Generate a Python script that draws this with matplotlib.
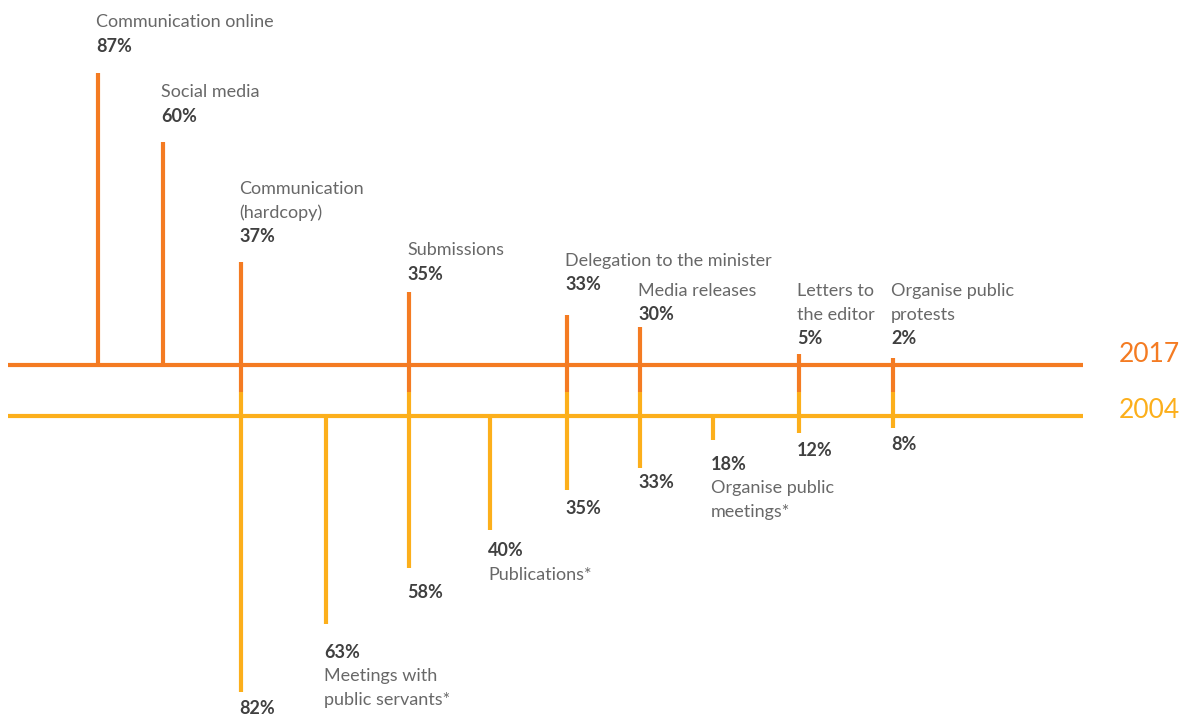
import matplotlib.pyplot as plt

plt.rcParams["font.family"] = ["Lato", "DejaVu Sans"]

# categories, left to right
names = [
    "Communication online",
    "Social media",
    "Communication\n(hardcopy)",
    "Meetings with\npublic servants*",
    "Submissions",
    "Publications*",
    "Delegation to the minister",
    "Media releases",
    "Organise public\nmeetings*",
    "Letters to\nthe editor",
    "Organise public\nprotests",
]
pct_2017 = [87, 60, 37, None, 35, None, 33, 30, None, 5, 2]
pct_2004 = [None, None, 82, 63, 58, 40, 35, 33, 18, 12, 8]

# drawn stem lengths (the design is not to scale)
stem_2017 = [292, 223, 103, None, 73, None, 50, 38, None, 11, 7]
stem_2004 = [None, None, 276, 208, 152, 114, 74, 52, 24, 17, 12]

# layout: x of each stem, gap from stem end to its percentage label
xpos = [98, 163, 241, 326, 409, 490, 567, 640, 713, 799, 893]
gap_2017 = [27, 26, 25, None, 18, None, 30, 12, None, 15, 19]
gap_2004 = [None, None, 17, 28, 25, 21, 18, 15, 24, 17, 16]
y17, y04 = 365, 416
mid = (y17 + y04) / 2 + 1
c17 = "#F47B22"
c04 = "#FCAF1B"
c_txt = "#686868"
c_pct = "#404040"
fs = 13

fig = plt.figure(figsize=(11.9, 7.18), dpi=100)
ax = fig.add_axes([0, 0, 1, 1])
ax.set_xlim(0, 1190)
ax.set_ylim(718, 0)
ax.axis("off")

# baselines
ax.plot([8, 1083], [y17, y17], color=c17, lw=3, solid_capstyle="butt")
ax.plot([8, 1083], [y04, y04], color=c04, lw=3, solid_capstyle="butt")
ax.text(1119, y17 - 11, "2017", color=c17, fontsize=19, va="center", ha="left")
ax.text(1119, y04 - 5, "2004", color=c04, fontsize=19, va="center", ha="left")

for i, name in enumerate(names):
    x = xpos[i]
    both = pct_2017[i] is not None and pct_2004[i] is not None
    lines = name.split("\n")
    if pct_2017[i] is not None:
        top = y17 - stem_2017[i]
        bottom = mid if both else y17
        ax.plot([x, x], [top, bottom], color=c17, lw=3, solid_capstyle="butt")
        py = top - gap_2017[i]
        ax.text(x - 2, py, "{}%".format(pct_2017[i]), color=c_pct, fontsize=fs,
                fontweight="bold", va="center", ha="left")
        for k, ln in enumerate(lines):
            ax.text(x - 2, py - 24 * (len(lines) - k), ln, color=c_txt, fontsize=fs,
                    va="center", ha="left")
    if pct_2004[i] is not None:
        end = y04 + stem_2004[i]
        start = mid if both else y04
        ax.plot([x, x], [start, end], color=c04, lw=3, solid_capstyle="butt")
        py = end + gap_2004[i]
        ax.text(x - 2, py, "{}%".format(pct_2004[i]), color=c_pct, fontsize=fs,
                fontweight="bold", va="center", ha="left")
        if pct_2017[i] is None:
            for k, ln in enumerate(lines):
                ax.text(x - 2, py + 24 * (k + 1), ln, color=c_txt, fontsize=fs,
                        va="center", ha="left")

plt.savefig("out.png", dpi=100)
